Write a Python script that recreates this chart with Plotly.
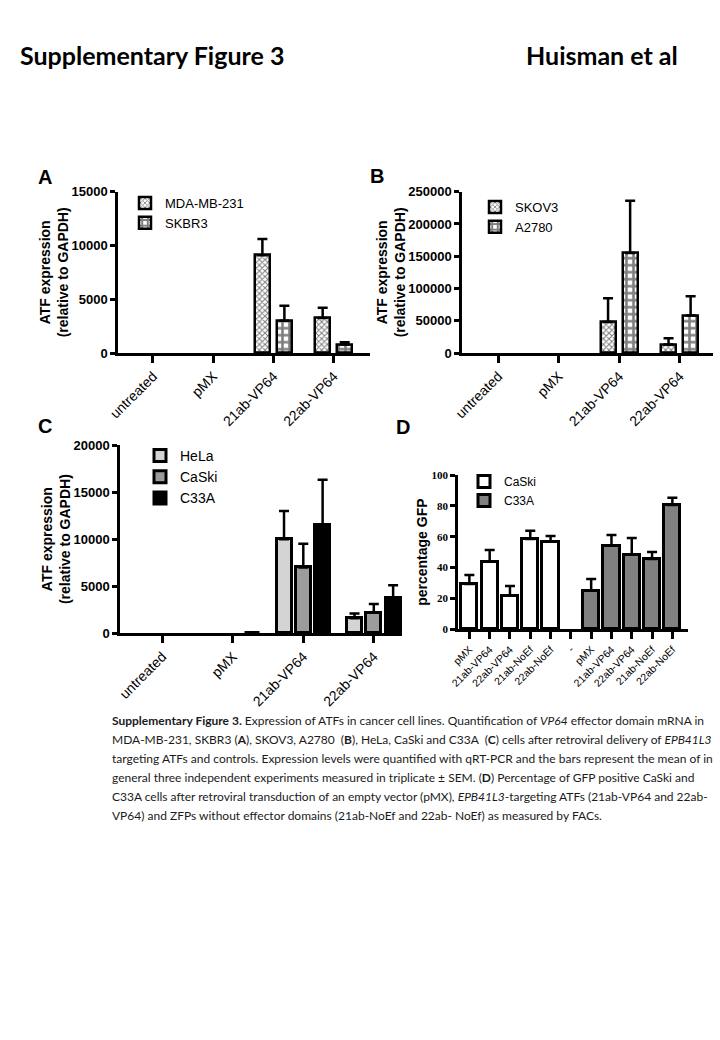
import plotly.graph_objects as go

W, H = 720, 1040

# ---------------- data ----------------
treatments = ["untreated", "pMX", "21ab-VP64", "22ab-VP64"]

a_mda = [0, 0, 9100, 3250]
a_mda_err = [0, 0, 1500, 950]
a_skbr3 = [0, 0, 3000, 800]
a_skbr3_err = [0, 0, 1400, 200]

b_skov3 = [0, 0, 48000, 13000]
b_skov3_err = [0, 0, 37000, 10000]
b_a2780 = [0, 0, 155000, 58000]
b_a2780_err = [0, 0, 81000, 30000]

c_hela = [0, 0, 10000, 1600]
c_hela_err = [0, 0, 3000, 500]
c_caski = [0, 0, 7000, 2200]
c_caski_err = [0, 0, 2500, 900]
c_c33a = [0, 80, 11500, 3700]
c_c33a_err = [0, 0, 4800, 1400]

d_conditions = ["pMX", "21ab-VP64", "22ab-VP64", "21ab-NoEf", "22ab-NoEf"]
d_separator = "-"
d_caski = [29.4, 43.8, 21.8, 58.5, 56.8]
d_caski_err = [5.8, 7.6, 6.2, 5.4, 3.7]
d_c33a = [25.0, 54.2, 48.4, 45.6, 80.6]
d_c33a_err = [7.6, 6.9, 10.8, 4.5, 4.7]

a_ticks = [0, 5000, 10000, 15000]
b_ticks = [0, 50000, 100000, 150000, 200000, 250000]
c_ticks = [0, 5000, 10000, 15000, 20000]
d_ticks = [0, 20, 40, 60, 80, 100]

# ---------------- helpers ----------------
def px_x(p):
    return p / W

def px_y(p):
    return 1 - p / H

BLK = "black"
fig = go.Figure()

def bar(x, y, err, name, xa, ya, legend, width, offset, color="white",
        pattern=None, lw=2.5, capw=5):
    # zero-valued bars / errors are not drawn (as in the original figure)
    yv = [v if v else None for v in y]
    ev = [e if e else None for e in err]
    fig.add_trace(go.Bar(
        x=x, y=yv, name=name, xaxis=xa, yaxis=ya, legend=legend,
        width=width, offset=offset,
        marker=dict(color=color, line=dict(color=BLK, width=lw),
                    pattern=pattern),
        error_y=dict(type="data", symmetric=False, array=ev,
                     arrayminus=[0] * len(err), color=BLK,
                     thickness=2.5, width=capw),
    ))

fine = dict(shape="x", size=4, solidity=0.45, fgcolor=BLK, bgcolor="white", fillmode="overlay")
coarse = dict(shape="+", size=7, solidity=0.6, fgcolor=BLK, bgcolor="white", fillmode="overlay")

# Panel A
bar(treatments, a_mda, a_mda_err, "MDA-MB-231", "x", "y", "legend", 0.25, -0.31, pattern=fine)
bar(treatments, a_skbr3, a_skbr3_err, "SKBR3", "x", "y", "legend", 0.25, 0.055, pattern=coarse)
# Panel B
bar(treatments, b_skov3, b_skov3_err, "SKOV3", "x2", "y2", "legend2", 0.25, -0.31, pattern=fine)
bar(treatments, b_a2780, b_a2780_err, "A2780", "x2", "y2", "legend2", 0.25, 0.055, pattern=coarse)
# Panel C
bar(treatments, c_hela, c_hela_err, "HeLa", "x3", "y3", "legend3", 0.213, -0.38, color="#d4d4d4", lw=3)
bar(treatments, c_caski, c_caski_err, "CaSki", "x3", "y3", "legend3", 0.213, -0.1065, color="#9c9c9c", lw=3)
bar(treatments, c_c33a, c_c33a_err, "C33A", "x3", "y3", "legend3", 0.213, 0.1675, color="#000000", lw=3)

# Panel D
d_labels = d_conditions + [d_separator] + d_conditions
n = len(d_conditions)
d_x_caski = list(range(n))
d_x_c33a = list(range(n + 1, 2 * n + 1))
bar(d_x_caski, d_caski, d_caski_err, "CaSki", "x4", "y4", "legend4", 0.8, -0.4, color="white", lw=3, capw=5)
bar(d_x_c33a, d_c33a, d_c33a_err, "C33A", "x4", "y4", "legend4", 0.8, -0.4, color="#808080", lw=3, capw=5)

TICKF = dict(family="Liberation Sans", size=14, color=BLK)
YTICKF = dict(family="Liberation Sans", size=13, color=BLK, weight="bold")
TITLEF = dict(family="Liberation Sans", size=14, color=BLK, weight="bold")

def xaxis_cfg(x0, x1, anchor, rng, tickfont=TICKF, **kw):
    return dict(domain=[px_x(x0), px_x(x1)], anchor=anchor, range=rng,
                showline=True, linecolor=BLK, linewidth=2.5, ticks="outside",
                ticklen=7, tickwidth=2.5, tickcolor=BLK, tickangle=-45,
                tickfont=tickfont, showgrid=False, zeroline=False, fixedrange=True, **kw)

def yaxis_cfg(y0, y1, anchor, rng, tickvals, title, standoff, tickfont=YTICKF, titlefont=TITLEF):
    return dict(domain=[px_y(y1), px_y(y0)], anchor=anchor, range=rng,
                tickvals=tickvals, ticktext=[str(v) for v in tickvals],
                showline=True, linecolor=BLK, linewidth=2.5, ticks="outside",
                ticklen=5, tickwidth=2.5, tickcolor=BLK, tickfont=tickfont,
                title=dict(text=title, font=titlefont, standoff=standoff),
                showgrid=False, zeroline=False, fixedrange=True)

ytitle = "ATF expression<br>(relative to GAPDH)"

layout = dict(
    width=W, height=H, margin=dict(l=0, r=0, t=0, b=0, autoexpand=False),
    paper_bgcolor="white", plot_bgcolor="white",
    xaxis=xaxis_cfg(118, 370, "y", [-0.58, 3.6]),
    yaxis=yaxis_cfg(191.7, 353, "x", [0, 15000], a_ticks, ytitle, 0),
    xaxis2=xaxis_cfg(462, 713, "y2", [-0.6, 3.55]),
    yaxis2=yaxis_cfg(191.7, 353, "x2", [0, 250000], b_ticks, ytitle, 0),
    xaxis3=xaxis_cfg(120, 402, "y3", [-0.6, 3.4]),
    yaxis3=yaxis_cfg(445, 633.3, "x3", [0, 20000], c_ticks, ytitle, 0),
    xaxis4=xaxis_cfg(458, 688, "y4", [-0.56, 10.77],
                     tickfont=dict(family="Liberation Sans", size=10.5, color=BLK),
                     tickmode="array", tickvals=list(range(len(d_labels))), ticktext=d_labels),
    yaxis4=yaxis_cfg(475, 629.3, "x4", [0, 100], d_ticks, "percentage GFP", 1,
                     tickfont=dict(family="Liberation Serif", size=11, color=BLK, weight="bold")),
    bargap=0, barmode="group",
)
layout["xaxis4"]["linewidth"] = 3

def leg(x, y, size=13):
    return dict(x=px_x(x), y=px_y(y), xanchor="left", yanchor="top",
                bgcolor="rgba(0,0,0,0)", font=dict(family="Liberation Sans", size=size, color=BLK),
                itemwidth=30, traceorder="normal")

layout["legend"] = leg(125, 188)
layout["legend2"] = leg(475, 192)
layout["legend3"] = leg(140, 440, size=14)
layout["legend4"] = leg(464, 467, size=12)

fig.update_layout(**layout)

# ---------------- text ----------------
anns = []
anns.append(dict(text="<b>Supplementary Figure 3</b>", x=px_x(18), y=px_y(55), xanchor="left",
                 yanchor="middle", font=dict(family="Lato", size=25, color=BLK)))
anns.append(dict(text="<b>Huisman et al</b>", x=px_x(524), y=px_y(55), xanchor="left",
                 yanchor="middle", font=dict(family="Lato", size=25, color=BLK)))
for letter, lx, ly in [("A", 45, 177), ("B", 377, 176), ("C", 45, 426), ("D", 403, 427)]:
    anns.append(dict(text=f"<b>{letter}</b>", x=px_x(lx), y=px_y(ly), xanchor="center",
                     yanchor="middle", font=dict(family="Liberation Sans", size=20, color=BLK)))

caption = [
    "<b>Supplementary Figure 3.</b> Expression of ATFs in cancer cell lines. Quantification of <i>VP64</i> effector domain mRNA in",
    "MDA-MB-231, SKBR3 (<b>A</b>), SKOV3, A2780  (<b>B</b>), HeLa, CaSki and C33A  (<b>C</b>) cells after retroviral delivery of <i>EPB41L3</i>",
    "targeting ATFs and controls. Expression levels were quantified with qRT-PCR and the bars represent the mean of in",
    "general three independent experiments measured in triplicate ± SEM. (<b>D</b>) Percentage of GFP positive CaSki and",
    "C33A cells after retroviral transduction of an empty vector (pMX), <i>EPB41L3</i>-targeting ATFs (21ab-VP64 and 22ab-",
    "VP64) and ZFPs without effector domains (21ab-NoEf and 22ab- NoEf) as measured by FACs.",
]
for i, line in enumerate(caption):
    anns.append(dict(text=line, x=px_x(110), y=px_y(720 + i * 19), xanchor="left", yanchor="middle",
                     font=dict(family="Lato", size=12, color="#1a1a1a")))
for a in anns:
    a["showarrow"] = False
    a["xref"] = "paper"
    a["yref"] = "paper"
fig.update_layout(annotations=anns)

fig.write_html("out.html", config={"displayModeBar": False},
               post_script="document.body.style.margin='0';")
